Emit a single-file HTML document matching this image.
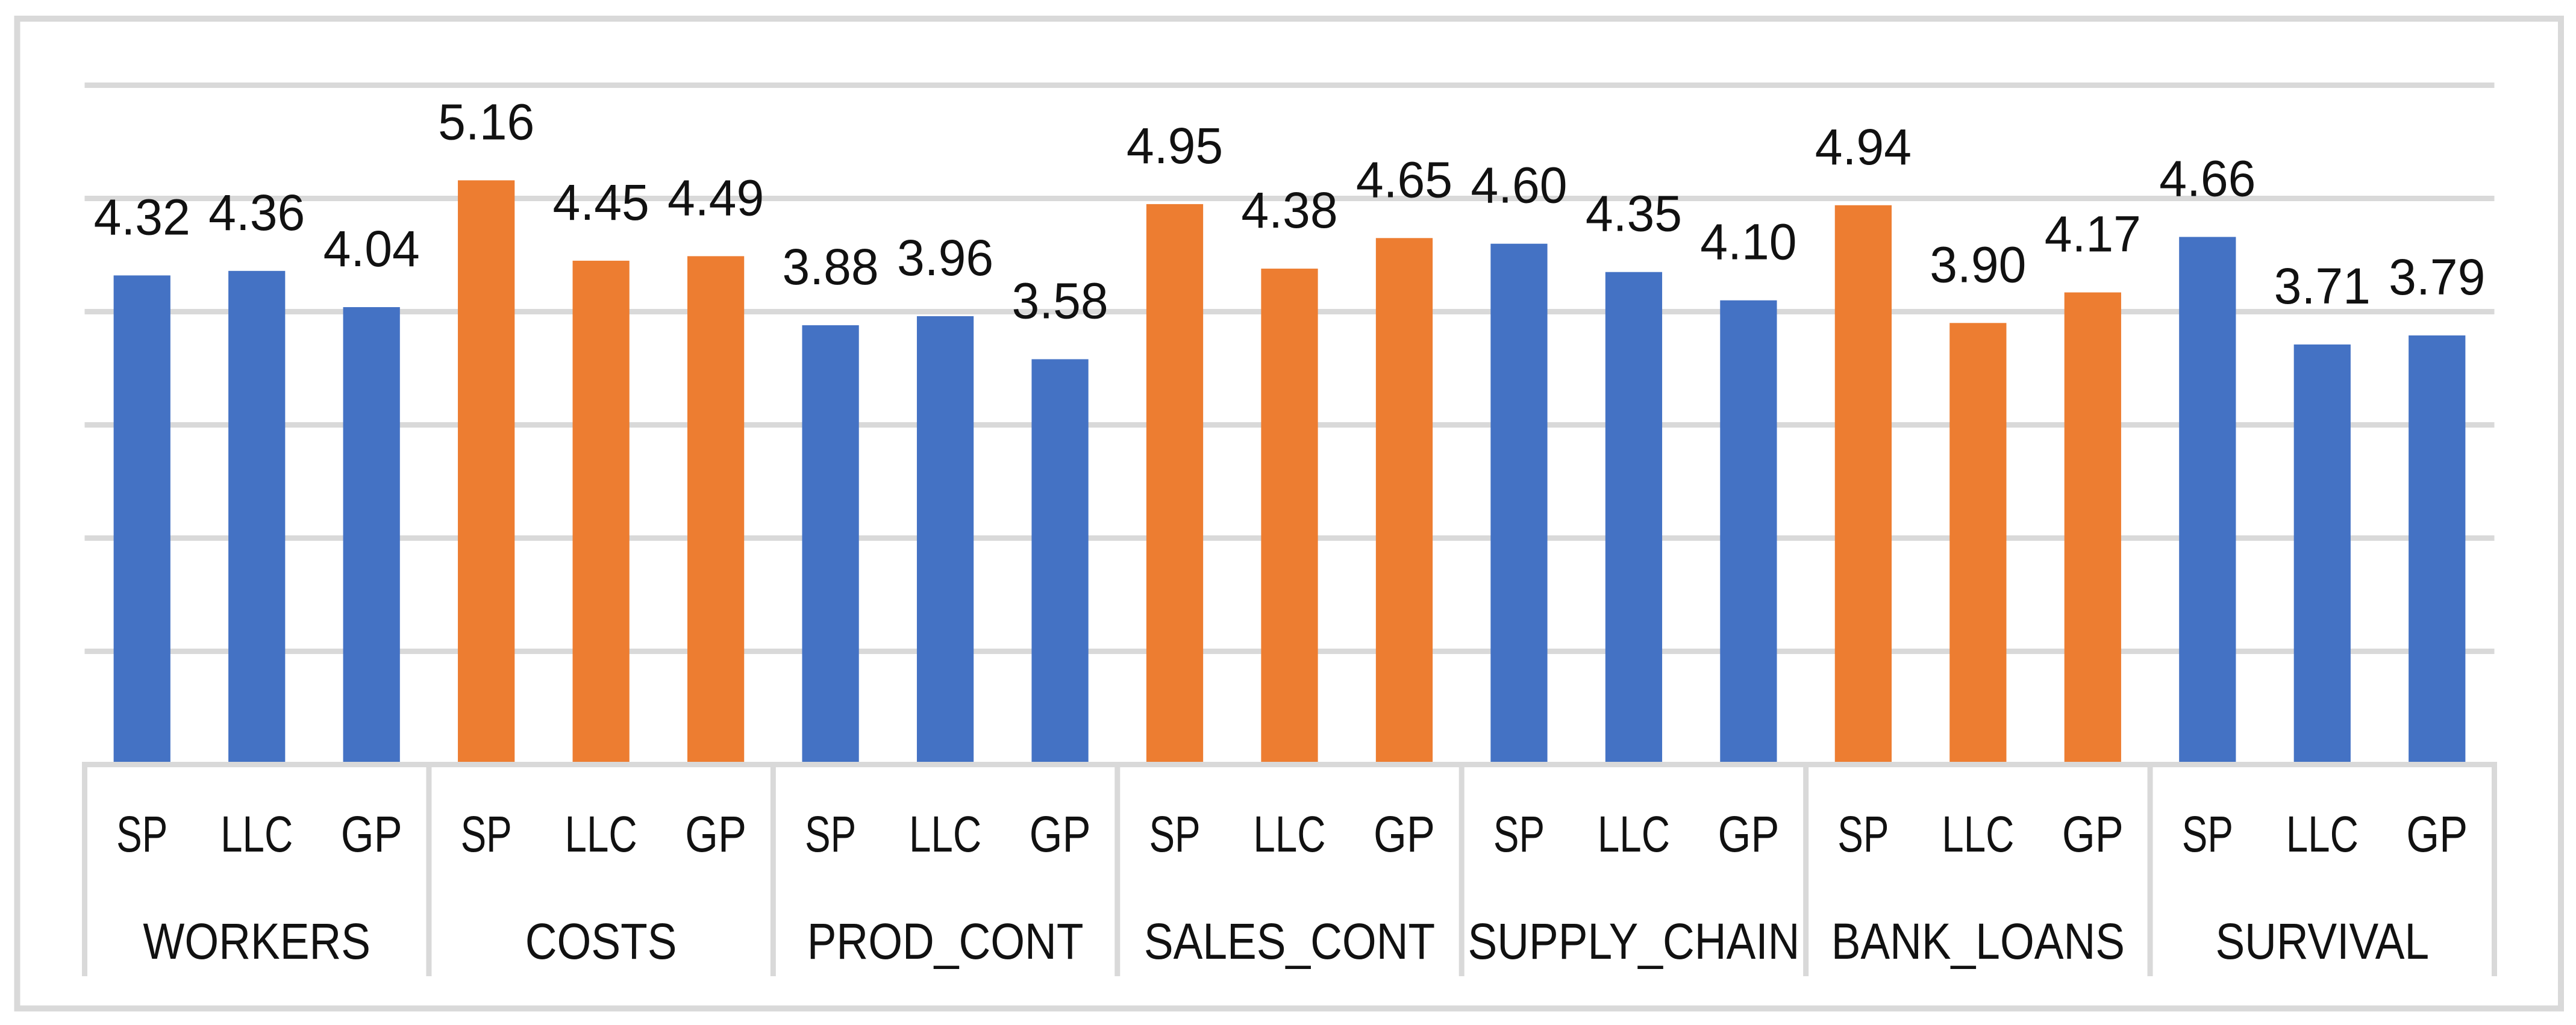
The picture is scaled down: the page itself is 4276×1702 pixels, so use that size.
<!DOCTYPE html>
<html lang="en">
<head>
<meta charset="utf-8">
<title>Bar chart by firm type</title>
<style>
  html, body { margin: 0; padding: 0; background: #fff; width: 4276px; height: 1702px; overflow: hidden; }
  svg { display: block; }
  text { font-family: "Liberation Sans", sans-serif; font-size: 84px; fill: #111; text-anchor: middle; }
</style>
</head>
<body>
<svg id="chart" xmlns="http://www.w3.org/2000/svg" width="4276" height="1702" viewBox="0 0 4276 1702">
  <rect x="0" y="0" width="4276" height="1702" fill="#ffffff"></rect>
  <rect x="28.5" y="31" width="4222.5" height="1643.5" fill="none" stroke="#d9d9d9" stroke-width="10"></rect>
  <g id="gridlines"></g>
  <g id="bars"></g>
  <g id="axis"></g>
  <g id="value-labels"></g>
  <g id="sub-labels"></g>
  <g id="group-labels"></g>
</svg>
<script>
const groups = ["WORKERS", "COSTS", "PROD_CONT", "SALES_CONT", "SUPPLY_CHAIN", "BANK_LOANS", "SURVIVAL"];
const firmTypes = ["SP", "LLC", "GP"];
const spValues = [4.32, 5.16, 3.88, 4.95, 4.60, 4.94, 4.66];
const llcValues = [4.36, 4.45, 3.96, 4.38, 4.35, 3.90, 3.71];
const gpValues = [4.04, 4.49, 3.58, 4.65, 4.10, 4.17, 3.79];
const gridTicks = [1, 2, 3, 4, 5, 6];

const NS = "http://www.w3.org/2000/svg";
const seriesValues = [spValues, llcValues, gpValues];
const plotLeft = 140.5, plotRight = 4140.5, zeroY = 1269.5, unitPx = 188;
const groupWidth = (plotRight - plotLeft) / groups.length;
const slotWidth = groupWidth / firmTypes.length;
const barWidth = slotWidth / 2 - 1;
const groupColors = ["#4472c4", "#ed7d31"];
const subLabelSqueeze = { SP: 0.76, LLC: 0.78, GP: 0.84 };

function yScale(v) { return zeroY - v * unitPx; }
function xGroup(g) { return plotLeft + g * groupWidth; }
function xBar(g, s) { return xGroup(g) + (s + 0.5) * slotWidth; }

function make(tag, parentId) {
  const el = document.createElementNS(NS, tag);
  document.getElementById(parentId).appendChild(el);
  return el;
}
function setAll(el, props) {
  Object.keys(props).forEach(function (k) { el.setAttribute(k, props[k]); });
}
function placeText(el, x, y, squeeze, str) {
  el.textContent = str;
  el.setAttribute("transform", "translate(" + x + " " + y + ") scale(" + squeeze + " 1)");
}

gridTicks.forEach(function (t) {
  const line = make("line", "gridlines");
  
  
  setAll(line, { x1: plotLeft, x2: plotRight, y1: yScale(t), y2: yScale(t), stroke: "#d9d9d9", "stroke-width": 9 });
});

groups.forEach(function (name, g) {
  seriesValues.forEach(function (series, s) {
    const v = series[g];
    const bar = make("rect", "bars");
    
    
    setAll(bar, {
      x: xBar(g, s) - barWidth / 2,
      y: yScale(v),
      width: barWidth,
      height: Math.max(0, zeroY - yScale(v)),
      fill: groupColors[g % 2]
    });

    const label = make("text", "value-labels");
    
    
    placeText(label, xBar(g, s), yScale(v) - 68, 0.98, v.toFixed(2));

    const sub = make("text", "sub-labels");
    
    
    placeText(sub, xBar(g, s), 1414, subLabelSqueeze[firmTypes[s]], firmTypes[s]);
  });

  const groupLabel = make("text", "group-labels");
  
  
  placeText(groupLabel, xGroup(g) + groupWidth / 2, 1592, 0.87, name);
});

const axisLine = make("line", "axis");


setAll(axisLine, { x1: plotLeft, x2: plotRight, y1: zeroY, y2: zeroY, stroke: "#d9d9d9", "stroke-width": 9 });

for (let g = 0; g <= groups.length; g++) {
  const tick = make("line", "axis");
  
  
  setAll(tick, { x1: xGroup(g), x2: xGroup(g), y1: zeroY - 4.5, y2: 1621, stroke: "#d9d9d9", "stroke-width": 9 });
}
</script>
</body>
</html>
